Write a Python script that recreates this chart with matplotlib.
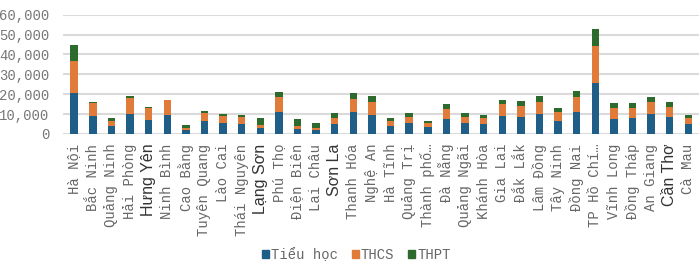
import numpy as np
import matplotlib.pyplot as plt
from matplotlib.patches import Patch

provinces = ["Hà Nội", "Bắc Ninh", "Quảng Ninh", "Hải Phòng", "Hưng Yên", "Ninh Bình",
             "Cao Bằng", "Tuyên Quang", "Lào Cai", "Thái Nguyên", "Lạng Sơn", "Phú Thọ",
             "Điện Biên", "Lai Châu", "Sơn La", "Thanh Hóa", "Nghệ An", "Hà Tĩnh",
             "Quảng Trị", "Thành phố…", "Đà Nẵng", "Quảng Ngãi", "Khánh Hòa", "Gia Lai",
             "Đắk Lắk", "Lâm Đồng", "Tây Ninh", "Đồng Nai", "TP Hồ Chí…", "Vĩnh Long",
             "Đồng Tháp", "An Giang", "Cần Thơ", "Cà Mau"]

blue_top = [20450, 9050, 4000, 10200, 7000, 9700, 2200, 6500, 5700, 5000, 2850, 10900,
            2500, 2000, 5000, 10900, 9700, 3850, 5700, 3350, 7700, 5700, 4850, 9200,
            8700, 9900, 6700, 11200, 25500, 7700, 7900, 9900, 8400, 5000]
orange_top = [36700, 15700, 6700, 17900, 12900, 16900, 3200, 10400, 9200, 8400, 4500, 18700,
              4200, 3200, 7900, 17700, 16100, 6500, 8700, 5400, 12700, 8800, 8000, 14900,
              14200, 16100, 11200, 18600, 44200, 13100, 13100, 16100, 13600, 8200]
green_top = [44600, 16000, 7900, 19100, 13400, 17000, 4400, 11600, 10050, 9500, 7900, 21300,
             7700, 5400, 10700, 20400, 18900, 7900, 10400, 6400, 15200, 10450, 9500, 17200,
             16600, 19200, 13200, 21600, 52800, 15400, 15400, 18700, 15900, 9700]

tieu_hoc = np.array(blue_top)
thcs = np.array(orange_top) - tieu_hoc
thpt = np.array(green_top) - np.array(orange_top)

sans_labels = ["Hưng Yên", "Lạng Sơn", "Sơn La", "Cần Thơ"]

c_blue = "#1e5e87"
c_orange = "#e07b39"
c_green = "#2d6a2d"
mono = "Liberation Mono"

fig = plt.figure(figsize=(7, 2.78), dpi=100)
ax = fig.add_axes([0.09, 0.518, 0.908, 0.429])

x = np.arange(len(provinces))
w = 0.4
ax.bar(x, tieu_hoc, w, color=c_blue, zorder=3)
ax.bar(x, thcs, w, bottom=tieu_hoc, color=c_orange, zorder=3)
ax.bar(x, thpt, w, bottom=tieu_hoc + thcs, color=c_green, zorder=3)

ax.set_ylim(0, 60000)
ax.set_xlim(-0.6, len(provinces) - 0.45)
ax.set_yticks(np.arange(0, 60001, 10000))
ax.set_yticklabels([f"{v:,}" for v in range(0, 60001, 10000)],
                   fontfamily=mono, fontsize=10, color="#777777")
ax.grid(axis="y", color="#dadada", linewidth=1.5, zorder=0)
for s in ax.spines.values():
    s.set_visible(False)
ax.tick_params(axis="y", length=0, pad=10)
ax.tick_params(axis="x", length=0, pad=7)

ax.set_xticks(x)
ax.set_xticklabels(provinces, rotation=90)
for lab in ax.get_xticklabels():
    if lab.get_text() in sans_labels:
        lab.set_fontfamily("Liberation Sans")
        lab.set_fontsize(11.5)
        lab.set_color("#333333")
    else:
        lab.set_fontfamily(mono)
        lab.set_fontsize(10)
        lab.set_color("#666666")

handles = [Patch(color=c_blue, label="Tiểu học"),
           Patch(color=c_orange, label="THCS"),
           Patch(color=c_green, label="THPT")]
leg = fig.legend(handles=handles, loc="center", bbox_to_anchor=(0.509, 0.083), ncol=3,
                 frameon=False, fontsize=10,
                 handlelength=0.5, handleheight=0.5, handletextpad=0.15, columnspacing=1.0)
for t in leg.get_texts():
    t.set_fontfamily(mono)
    t.set_color("#666666")

fig.savefig("out.png", dpi=100)
